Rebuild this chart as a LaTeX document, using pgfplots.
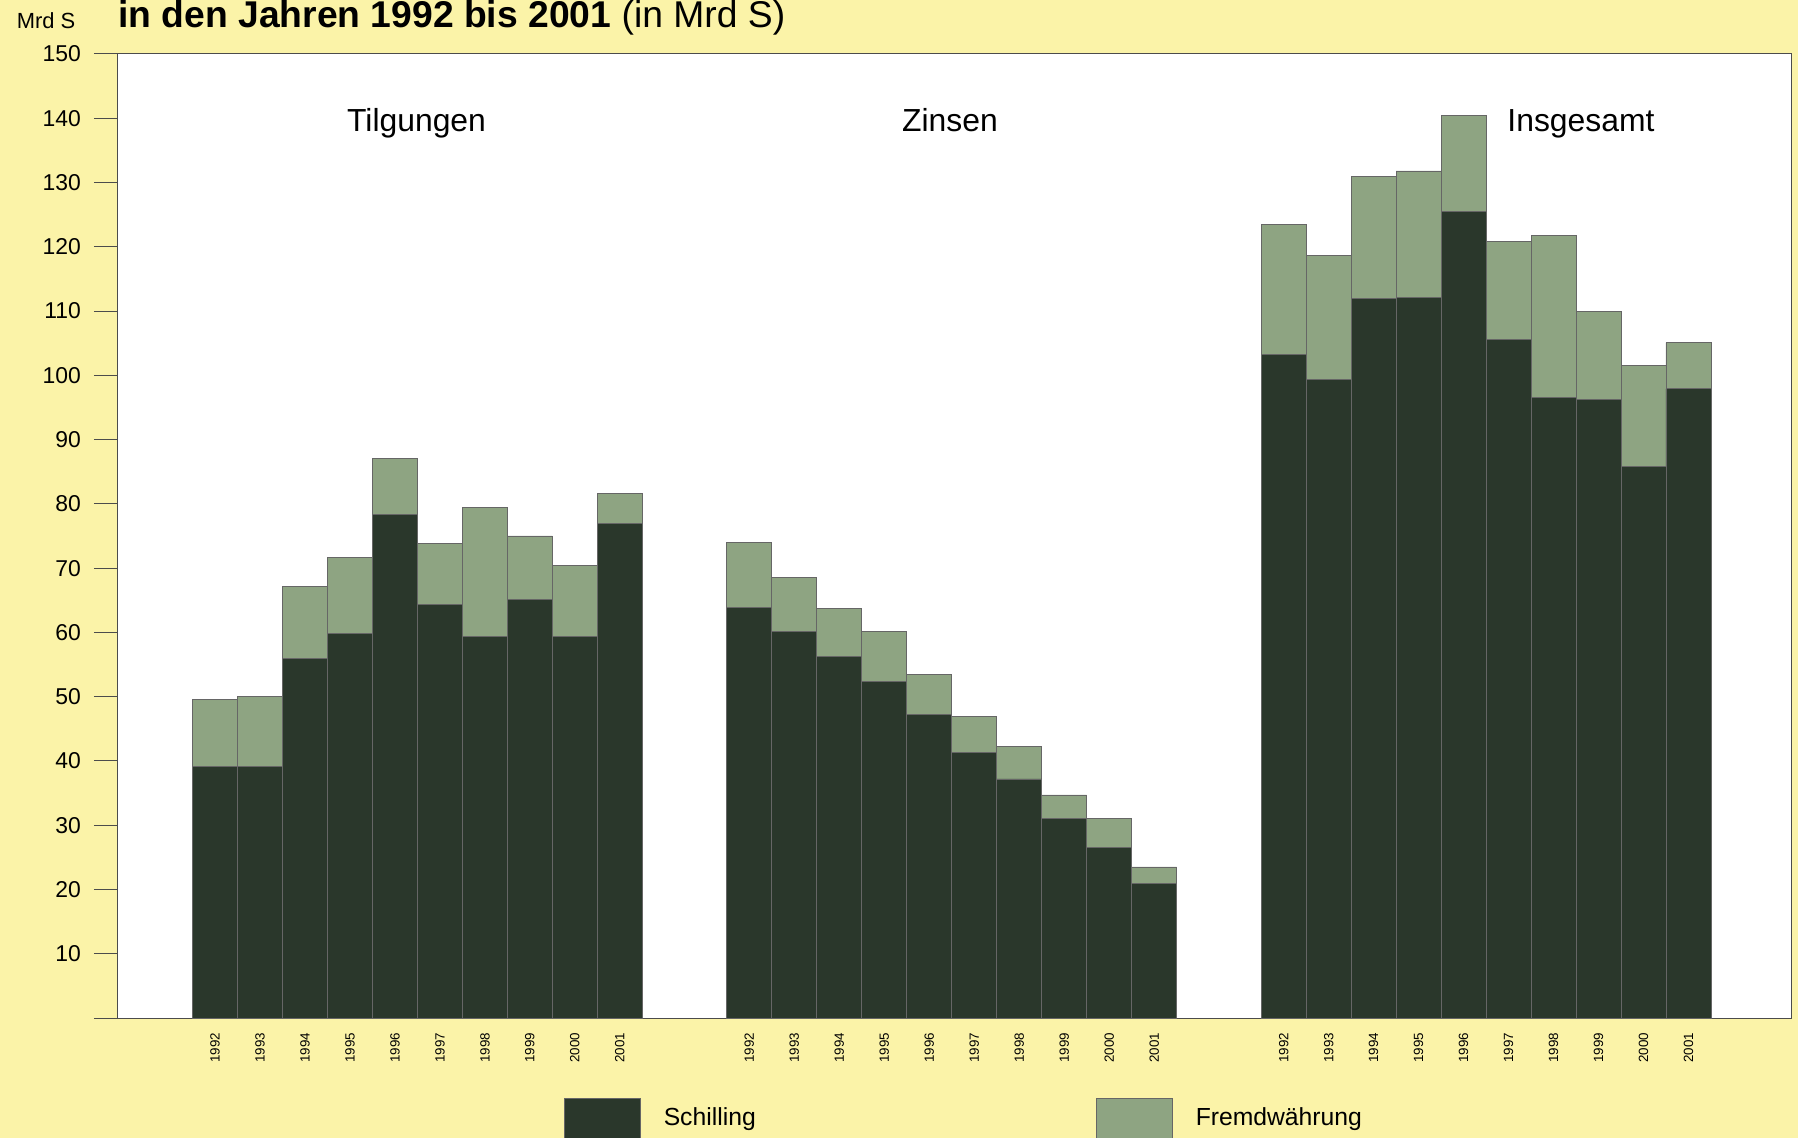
\documentclass[border=0pt]{standalone}
\usepackage{pgfplots}
\pgfplotsset{compat=1.18}
\usepackage{pgfplotstable}
\usepackage{fontspec}
\setmainfont{Liberation Sans}
\definecolor{bgyellow}{RGB}{251,243,168}
\definecolor{darkgreen}{RGB}{42,55,43}
\definecolor{lightgreen}{RGB}{142,164,130}
\pgfplotsset{mybox legend/.style={legend image code/.code={\draw[##1] (0bp,-20bp) rectangle (37.8bp,9.5bp);}}}
\pgfplotstableread{
x      S      F
0      39.2   10.3
1      39.1   11.0
2      55.9   11.2
3      59.9   11.8
4      78.3   8.7
5      64.3   9.5
6      59.3   20.1
7      65.1   9.9
8      59.3   11.1
9      77.0   4.6
11.88  63.9   10.1
12.88  60.1   8.4
13.88  56.2   7.5
14.88  52.4   7.7
15.88  47.3   6.2
16.88  41.3   5.6
17.88  37.2   5.0
18.88  31.0   3.7
19.88  26.6   4.5
20.88  20.9   2.6
23.76  103.2  20.3
24.76  99.3   19.4
25.76  112.0  18.9
26.76  112.1  19.7
27.76  125.5  15.0
28.76  105.6  15.2
29.76  96.6   25.1
30.76  96.3   13.7
31.76  85.8   15.8
32.76  97.9   7.2
}\data
\begin{document}
\begin{tikzpicture}
\path[use as bounding box] (0,0) rectangle (899bp,569bp);
\clip (0,0) rectangle (899bp,569bp);
\fill[bgyellow] (0,0) rectangle (899bp,569bp);
\node[anchor=base west, inner sep=0pt] at (59bp,555bp)
  {\fontsize{18.7}{20}\selectfont\textbf{in den Jahren 1992 bis 2001} (in Mrd S)};
\node[inner sep=0pt] at (23bp,558.5bp) {\fontsize{11}{13}\selectfont Mrd S};
\begin{axis}[
  at={(58.5bp,60bp)}, anchor=south west,
  scale only axis, width=837bp, height=482bp,
  xmin=-2.18, xmax=35.04, ymin=0, ymax=150,
  ybar stacked, bar width=1,
  axis background/.style={fill=white},
  axis line style={draw=black!70, line width=0.5bp},
  ytick={0,10,...,150},
  yticklabels={,10,20,30,40,50,60,70,80,90,100,110,120,130,140,150},
  ytick pos=left, xtick pos=bottom,
  tick align=outside, major tick length=11.5bp,
  ytick style={draw=black!70, line width=0.5bp},
  xtick style={draw=none},
  xtick={0,1,2,3,4,5,6,7,8,9,11.88,12.88,13.88,14.88,15.88,16.88,17.88,18.88,19.88,20.88,23.76,24.76,25.76,26.76,27.76,28.76,29.76,30.76,31.76,32.76},
  xticklabels={1992,1993,1994,1995,1996,1997,1998,1999,2000,2001,1992,1993,1994,1995,1996,1997,1998,1999,2000,2001,1992,1993,1994,1995,1996,1997,1998,1999,2000,2001},
  x tick label style={rotate=90, anchor=east, font=\fontsize{6.7}{7}\selectfont, xshift=7.5bp},
  y tick label style={font=\fontsize{11.5}{13}\selectfont, xshift=-3bp},
  /pgf/number format/assume math mode=true,
  legend columns=2,
  legend cell align=left,
  legend style={at={(0.267,-0.083)}, anchor=north west, draw=none, fill=none, inner sep=0pt,
    nodes={inner xsep=0pt, font=\fontsize{12.4}{14}\selectfont},
    /tikz/every odd column/.append style={column sep=11.5bp},
    /tikz/every even column/.append style={column sep=170.3bp}},
]
\addplot[fill=darkgreen, draw=black!60, line width=0.4bp, mybox legend]
  table[x=x, y=S]{\data};
\addlegendentry{Schilling}
\addplot[fill=lightgreen, draw=black!60, line width=0.4bp, mybox legend]
  table[x=x, y=F]{\data};
\addlegendentry{Fremdwährung}
\node[font=\fontsize{16}{18}\selectfont, anchor=base] at (axis cs:4.48,137.9) {Tilgungen};
\node[font=\fontsize{16}{18}\selectfont, anchor=base] at (axis cs:16.34,137.9) {Zinsen};
\node[font=\fontsize{16}{18}\selectfont, anchor=base] at (axis cs:30.37,137.9) {Insgesamt};
\end{axis}
\end{tikzpicture}
\end{document}
